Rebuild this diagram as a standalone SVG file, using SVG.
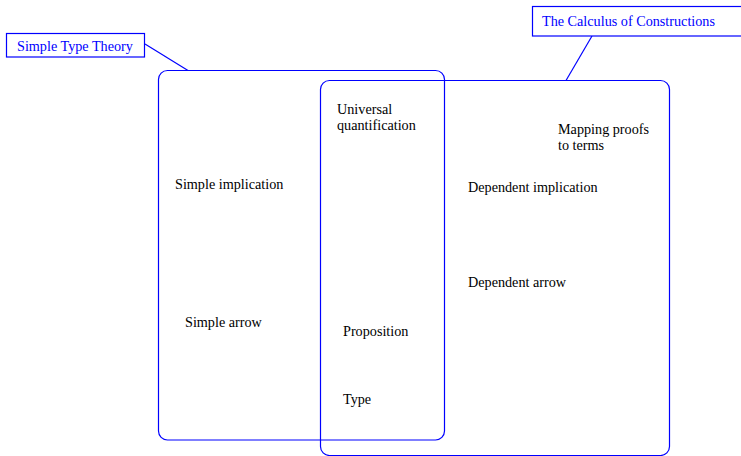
<svg xmlns="http://www.w3.org/2000/svg" width="741" height="456" viewBox="0 0 741 456">
<style>
.box{fill:none;stroke:#0000ff;stroke-width:1.2}
.lbl{fill:#fff;stroke:#0000ff;stroke-width:1.2}
.ln{stroke:#0000ff;stroke-width:1.2;fill:none}
text{font-family:"Liberation Serif","Times New Roman",serif;font-size:14.2px;fill:#000}
.bt{fill:#0000ff}
</style>
<rect width="741" height="456" fill="#fff"/>
<g id="simple-type-theory">
<rect class="box" x="158.5" y="70.5" width="286" height="369.5" rx="9"/>
</g>
<g id="calculus-of-constructions">
<rect class="box" x="320.5" y="80.5" width="349" height="375" rx="9"/>
</g>
<g id="connectors">
<line class="ln" x1="145" y1="44" x2="188" y2="70.5"/>
<line class="ln" x1="592" y1="36" x2="566" y2="80.5"/>
</g>
<g id="label-stt">
<rect class="lbl" x="6.5" y="33.5" width="138" height="23.5"/>
<text class="bt" x="17" y="50.5">Simple Type Theory</text>
</g>
<g id="label-coc">
<rect class="lbl" x="532.5" y="6.5" width="215" height="29.5"/>
<text class="bt" x="542" y="25.5">The Calculus of Constructions</text>
</g>
<g id="universal"><text x="337" y="114">Universal</text><text x="337" y="130">quantification</text></g>
<g id="mapping"><text x="558" y="134">Mapping proofs</text><text x="558" y="150">to terms</text></g>
<g id="simple-implication"><text x="175" y="189">Simple implication</text></g>
<g id="dependent-implication"><text x="468" y="192">Dependent implication</text></g>
<g id="dependent-arrow"><text x="468" y="287">Dependent arrow</text></g>
<g id="simple-arrow"><text x="185" y="327">Simple arrow</text></g>
<g id="proposition"><text x="343" y="336">Proposition</text></g>
<g id="type"><text x="343" y="404">Type</text></g>
</svg>
